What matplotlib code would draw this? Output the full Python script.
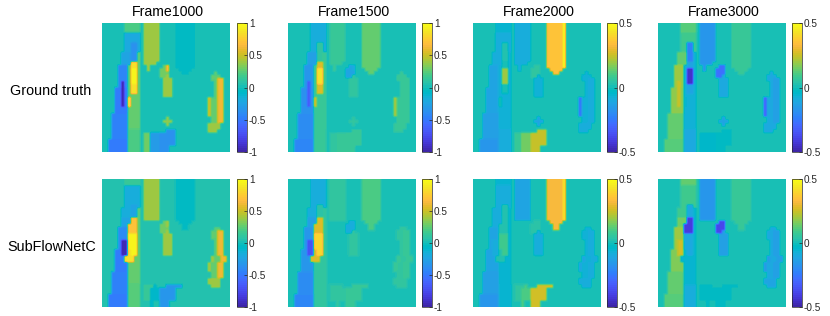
import numpy as np
import matplotlib
matplotlib.use("Agg")
import matplotlib.pyplot as plt
from matplotlib.colors import ListedColormap

frames = ["Frame1000", "Frame1500", "Frame2000", "Frame3000"]
rows_labels = ["Ground truth", "SubFlowNetC"]
clims = [1.0, 1.0, 0.5, 0.5]
ticks_big = [-1, -0.5, 0, 0.5, 1]
ticks_small = [-0.5, 0, 0.5]

# region maps: each letter is a zone, padded to 40 columns with background
def rep(n, s):
    return [s] * n

gt_map = (
    rep(3, ".......aaaaa.nnnnn.....ooooop")
    + rep(3, ".......bbbbb.nnnnn.....ooooop")
    + rep(3, ".......bbiib.nnnnn.....ooooop")
    + rep(3, "......ccciil.nnnnn.....ooooop")
    + ["......cccJJl.nnnn......ooooop"]
    + [".....dddlJJl..n....qr..ooooop"]
    + [".....dddljjl..n...qqr...oooo"]
    + [".....dddljjl......qqq....oo........v"]
    + [".....dddljjl......qqs.............vvv"]
    + [".....dddljjl.......sss............vvww"]
    + [".....dedljjl.......sss.............vww"]
    + [".....dedlJJl.......sss.............vww"]
    + rep(2, "....ffeflJJl.......sss.............vww")
    + ["....ffefllll.......sss.............vww"]
    + rep(3, "....ffefklll.....................yvvww")
    + rep(2, "....ffffllll.....................yvvww")
    + ["...gggggllll.....................yvvww"]
    + ["...gggggllll........t.............vvww"]
    + ["...gggggllll.......ttt............vvww"]
    + ["...gggggllll........t............zzzz"]
    + ["...gggggllll.....................zzzz"]
    + ["...gggggmmmm........UUU..........zzz"]
    + ["...gggggmmmm.xxuuuUUUUU"]
    + ["...gggggmmmm.xxuuuUUUUU"]
    + rep(2, "..hhhhhhmmmm.xxuuuUUUUU")
    + rep(2, "..hhhhhhmmmm.xxuuuUUU")
)

pred_map = (
    rep(2, ".......aaaaa.nnnnn.....ooooop")
    + rep(6, ".......bbbbb.nnnnn.....ooooop")
    + [".......bbiib.nnnnn.....ooooop"]
    + rep(3, "......bbbiil.nnnnn.....ooooop")
    + ["......cccJJl.nnnnn.....ooooop"]
    + ["......cccJJl.......qr...oooo"]
    + ["......ccJJJl......qqr....oo"]
    + [".....dddJJJl......qqq....oo........vv"]
    + [".....dddJJJl......qqs.............vvww"]
    + rep(2, ".....dddjjjl.......sss............vvww")
    + rep(3, ".....deejjjl.......sss.............vww")
    + rep(2, "....ffeekjjl.......sss.............vww")
    + rep(2, "....fffkkkll......................yvvww")
    + rep(3, "....ffffllll.....................yvvww")
    + rep(2, "...gggggllll......................vvww")
    + rep(2, "...gggggllll.....................zzzz")
    + ["...gggggmmmm.xxxu...UUUUU.........zzz"]
    + rep(2, "...gggggmmmm.xxuuuUUUUU")
    + rep(2, "..hhhhhhmmmm.xxuuuUUUUU")
    + rep(2, "..hhhhhhmmmm...u..UUU")
)

region_keys = list(".abcdefghijklmnopqrstuxUvwyzJ")

gt_1000 = [.015, .20, -.20, -.25, -.42, -.95, -.50, -.45, -.48, -.35, .95, .90, .25, .20, .40, -.06, -.06, .30, .65, .40, .35, -.30, .30, -.35, .25, .60, .50, .40, .85]
gt_1500 = [.015, -.18, -.18, -.27, -.33, -.65, -.35, -.38, -.42, .12, .85, .50, .15, .13, .13, .25, .25, -.25, -.20, .10, .10, .13, .10, .15, .15, .15, .40, .13, .55]
gt_2000 = [.01, -.06, -.09, -.09, -.11, -.11, -.11, -.14, -.16, .02, .20, .00, -.07, -.09, -.09, .35, .47, .05, .05, -.07, -.11, .15, .07, .24, -.07, -.09, -.25, -.09, .00]
gt_3000 = [.01, .12, .08, .14, .20, .25, .18, .13, .12, -.22, -.45, -.05, -.07, -.10, -.16, .07, .07, -.27, -.27, -.10, -.12, -.04, -.04, -.03, -.10, -.14, -.30, -.10, -.12]

pred_1000 = [.035, .15, -.17, -.25, -.40, -.95, -.48, -.45, -.48, -.25, .95, .85, .25, .22, .40, -.04, -.04, .30, .40, .40, .05, -.08, .15, -.32, .25, .60, .40, .40, .70]
pred_1500 = [.03, -.18, -.18, -.26, -.33, -.70, -.33, -.38, -.42, .08, .80, .55, .12, .12, .12, .20, .20, -.18, -.18, .10, .04, .10, .10, .14, .12, .14, .15, .12, .55]
pred_2000 = [.015, -.06, -.09, -.09, -.11, -.09, -.12, -.14, -.16, .03, .08, .02, -.05, -.06, -.11, .32, .42, .04, .04, -.08, .02, .10, .05, .26, -.07, -.09, -.11, -.09, .02]
pred_3000 = [.015, .13, .08, .15, .20, .25, .17, .13, .12, -.10, -.10, -.05, -.05, -.08, -.16, .07, .07, -.38, -.38, -.14, .02, -.03, -.03, -.03, -.10, -.14, -.15, -.11, -.42]

gt_values = [gt_1000, gt_1500, gt_2000, gt_3000]
pred_values = [pred_1000, pred_1500, pred_2000, pred_3000]

parula = ListedColormap([
    (.2422,.1504,.6603),(.2504,.1650,.7076),(.2578,.1818,.7511),(.2647,.1978,.7952),(.2706,.2147,.8364),(.2751,.2342,.8710),
    (.2783,.2559,.8991),(.2803,.2782,.9221),(.2813,.3006,.9414),(.2810,.3228,.9579),(.2795,.3447,.9717),(.2760,.3667,.9829),
    (.2699,.3892,.9906),(.2602,.4123,.9952),(.2440,.4358,.9988),(.2206,.4603,.9973),(.1963,.4847,.9892),(.1834,.5074,.9798),
    (.1786,.5289,.9682),(.1764,.5499,.9520),(.1687,.5703,.9359),(.1540,.5902,.9218),(.1460,.6091,.9079),(.1380,.6276,.8973),
    (.1248,.6459,.8883),(.1113,.6635,.8763),(.0952,.6798,.8598),(.0689,.6948,.8394),(.0297,.7082,.8163),(.0036,.7203,.7917),
    (.0067,.7312,.7660),(.0433,.7411,.7394),(.0964,.7500,.7120),(.1408,.7584,.6842),(.1717,.7670,.6554),(.1938,.7758,.6251),
    (.2161,.7843,.5923),(.2470,.7918,.5567),(.2906,.7973,.5188),(.3406,.8008,.4789),(.3909,.8029,.4354),(.4456,.8024,.3909),
    (.5044,.7993,.3480),(.5616,.7942,.3045),(.6174,.7876,.2612),(.6720,.7793,.2227),(.7242,.7698,.1910),(.7738,.7598,.1646),
    (.8203,.7498,.1535),(.8634,.7406,.1596),(.9035,.7330,.1774),(.9393,.7288,.2100),(.9728,.7298,.2394),(.9956,.7434,.2371),
    (.9970,.7659,.2199),(.9952,.7893,.2028),(.9892,.8136,.1885),(.9786,.8386,.1766),(.9676,.8639,.1643),(.9610,.8890,.1537),
    (.9597,.9135,.1423),(.9628,.9373,.1265),(.9691,.9606,.1064),(.9769,.9839,.0805)], name="parula")

plt.rcParams["font.family"] = ["Liberation Sans", "DejaVu Sans"]
W, H = 830, 316
fig = plt.figure(figsize=(W / 100, H / 100), dpi=100)

def px_axes(x0, y0, x1, y1):
    return fig.add_axes([x0 / W, 1 - y1 / H, (x1 - x0) / W, (y1 - y0) / H])

def to_grid(rows, values):
    lut = dict(zip(region_keys, values))
    padded = [r.ljust(40, ".") for r in rows]
    return np.array([[lut[c] for c in r] for r in padded])

panel_x = [(102.3, 229.3), (287.7, 415), (472.7, 600), (657.7, 785)]
cbar_x = [(236.7, 246.7), (421.7, 431.7), (606.7, 616.7), (791.7, 801.7)]
panel_y = [(23.3, 151.7), (179.3, 307)]
INK = (0.15, 0.15, 0.15)

for r, (rmap, vals) in enumerate([(gt_map, gt_values), (pred_map, pred_values)]):
    for c in range(4):
        ax = px_axes(panel_x[c][0], panel_y[r][0], panel_x[c][1], panel_y[r][1])
        lim = clims[c]
        im = ax.imshow(to_grid(rmap, vals[c]), cmap=parula, vmin=-lim, vmax=lim,
                       aspect="auto", interpolation="hanning")
        ax.set_xticks([])
        ax.set_yticks([])
        for s in ax.spines.values():
            s.set_visible(False)
        if r == 0:
            fig.text((sum(panel_x[c]) / 2 + 2.2) / W, 1 - 15.8 / H, frames[c],
                     ha="center", va="baseline", fontsize=10.2, color="black")
        cax = px_axes(cbar_x[c][0], panel_y[r][0], cbar_x[c][1], panel_y[r][1])
        cb = fig.colorbar(im, cax=cax)
        t = ticks_big if lim == 1.0 else ticks_small
        cb.set_ticks(t)
        cb.set_ticklabels([f"{v:g}" for v in t])
        cb.minorticks_off()
        cax.tick_params(direction="in", length=2, width=0.5, labelsize=7.2,
                        labelcolor=INK, color=INK, pad=1.5)
        cb.outline.set_linewidth(0.5)
        cb.outline.set_edgecolor(INK)

fig.text(10 / W, 1 - 91 / H, rows_labels[0], ha="left", va="center", fontsize=10.4, color="black")
fig.text(7 / W, 1 - 247 / H, rows_labels[1], ha="left", va="center", fontsize=10.4, color="black")
fig.savefig("out.png", dpi=100)
